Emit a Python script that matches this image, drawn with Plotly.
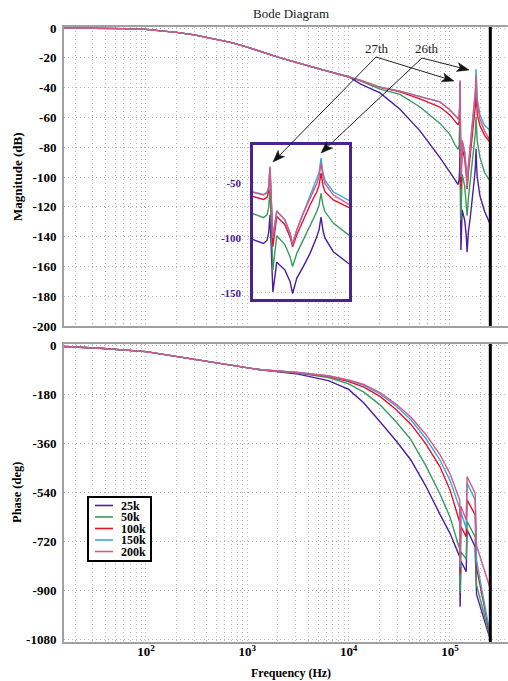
import math
import plotly.graph_objects as go

# ---------------- data ----------------
series_names = ["25k", "50k", "100k", "150k", "200k"]
series_colors = ["#4a1e9e", "#3a9a5c", "#e8102a", "#3aa8dc", "#d05a8c"]

# Magnitude (dB): common low-frequency part shared by every curve
mag_freq_common = [15, 30, 60, 100, 150, 200, 300, 400, 700, 1000, 2000, 5000, 10000]
mag_common = [0, -0.1, -0.4, -0.9, -1.8, -2.9, -4.6, -6.3, -9.8, -12.8, -19.5, -27.2, -32.6]

# Magnitude (dB): high-frequency part, per curve
mag_freq_tail = [13000, 20400, 32100, 50600, 79600, 100000, 111430, 119950, 123030,
                 124450, 125600, 128230, 131830, 139640, 144880, 147570, 152060,
                 159220, 167110, 175390, 178240, 180720, 183230, 185780, 197240,
                 219290, 250000]
mag_25k = [-37.5, -43.5, -54.5, -69, -87, -96.5, -101.5, -105, -102, -95, -79, -149,
           -122, -129, -139.5, -150.5, -136.5, -126, -114, -99, -92.5, -81, -93,
           -100, -112.5, -123, -132]
mag_50k = [-35.5, -41, -44.5, -53, -64, -71.5, -78, -81.5, -79, -72, -56, -129,
           -98, -106, -117, -126, -114, -102, -90, -76, -70, -59.5, -70,
           -76, -86.5, -97, -103]
mag_100k = [-35.1, -39.8, -42.8, -47.5, -53, -58.4, -62.5, -65, -63, -58, -37, -108,
            -80.5, -88, -99, -108, -97, -83.5, -70, -58, -52, -41, -52,
            -58, -65.5, -72, -77]
mag_150k = [-35, -39.6, -42.3, -46, -49.5, -55, -58, -60.5, -58.5, -53.5, -36, -100,
            -75.5, -83.5, -95.5, -106, -92.5, -77.5, -63, -47.5, -40.5, -27.5, -40.5,
            -47.5, -58, -65.5, -69]
mag_200k = [-35, -39.8, -42.3, -46, -49.5, -55, -58.5, -61, -59, -54, -35, -100,
            -75.5, -83.5, -95.5, -106, -92.5, -77.5, -64, -50.5, -44, -32, -44,
            -50.5, -61, -69, -76]

# Phase (deg): common low-frequency part
ph_freq_common = [15, 35, 100, 160, 343, 731, 1350]
ph_common = [-2, -8.6, -21, -33, -54, -73.6, -88]

# Phase (deg): high-frequency part, per curve
ph_freq_tail = [3160, 6310, 10000, 14125, 20400, 29510, 41110, 57540, 79620, 100000,
                122740, 125020, 125890, 128230, 144540, 147570, 177010, 182810, 250000]
ph_25k = [-104, -128, -160, -210, -279, -350, -420, -515, -620, -690,
          -770, -775, -960, -792, -831, -677, -739, -915, -1082]
ph_50k = [-100, -117, -140, -170, -217, -280, -345, -440, -545, -630,
          -740, -748, -910, -758, -785, -647, -702, -880, -1076]
ph_100k = [-99, -113, -131, -152, -186, -235, -288, -360, -445, -530,
           -640, -650, -840, -665, -702, -567, -622, -815, -1072]
ph_150k = [-98, -111, -127, -145, -177, -222, -272, -340, -420, -495,
           -590, -597, -815, -612, -671, -505, -567, -790, -1065]
ph_200k = [-98, -110, -125, -142, -172, -215, -262, -325, -400, -470,
           -560, -567, -800, -590, -641, -481, -542, -735, -895]

mag_tails = [mag_25k, mag_50k, mag_100k, mag_150k, mag_200k]
ph_tails = [ph_25k, ph_50k, ph_100k, ph_150k, ph_200k]

nyquist_hz = 250000
mag_ticks = [0, -20, -40, -60, -80, -100, -120, -140, -160, -180, -200]
phase_ticks = [0, -180, -360, -540, -720, -900, -1080]
inset_ticks = [-50, -100, -150]
freq_decades = [2, 3, 4, 5]
harmonic_labels = ["27th", "26th"]

# ---------------- layout geometry ----------------
W, H = 508, 681
ML, MR, MT, MB = 64, 0, 27, 39
PW, PH = W - ML - MR, H - MT - MB


def px(x):
    return (x - ML) / PW


def py(y):
    return (H - MB - y) / PH


SERIF = "Liberation Serif"
GRID = "#b8b8b8"
GRID_DASH = "1px,3px"
AXLINE = "#a0a0a0"
INSET = "#4a2390"

mag_freq = mag_freq_common + mag_freq_tail
ph_freq = ph_freq_common + ph_freq_tail

fig = go.Figure()

# Magnitude / phase curves, plus the inset zoom of the resonances
for name, color, mt, pt in zip(series_names, series_colors, mag_tails, ph_tails):
    mag = mag_common + mt
    ph = ph_common + pt
    fig.add_trace(go.Scatter(x=mag_freq, y=mag, mode="lines", name=name,
                             line=dict(color=color, width=1.4),
                             xaxis="x", yaxis="y", showlegend=False))
    fig.add_trace(go.Scatter(x=ph_freq, y=ph, mode="lines", name=name,
                             line=dict(color=color, width=1.4),
                             xaxis="x2", yaxis="y2", showlegend=False))
    fig.add_trace(go.Scatter(x=mag_freq, y=mag, mode="lines", name=name,
                             line=dict(color=color, width=1.4),
                             xaxis="x3", yaxis="y3", showlegend=False))

# Nyquist frequency marker
mag_range = [-200, 0.7]
ph_range = [-1090, 7]
fig.add_trace(go.Scatter(x=[nyquist_hz, nyquist_hz], y=mag_range, mode="lines",
                         line=dict(color="black", width=3), xaxis="x", yaxis="y",
                         showlegend=False, hoverinfo="skip"))
fig.add_trace(go.Scatter(x=[nyquist_hz, nyquist_hz], y=ph_range, mode="lines",
                         line=dict(color="black", width=3), xaxis="x2", yaxis="y2",
                         showlegend=False, hoverinfo="skip"))

# log grid positions (1..9 x each decade)
grid_vals = [m * 10 ** d for d in range(1, 6) for m in range(1, 10)
             if 15.5 <= m * 10 ** d <= 370000]
decade_vals = [10 ** d for d in freq_decades]
decade_text = [f"10<sup>{d}</sup>" for d in freq_decades]


def hyphen_labels(vals):
    return [str(v) for v in vals]   # plain ASCII hyphen for negatives


tickfont = dict(family=SERIF, size=13, color="black", weight="bold")
xrange_log = [1.191, 5.5725]

grid_x = dict(type="log", range=xrange_log, tickmode="array", tickvals=grid_vals,
              showticklabels=False, showgrid=True, gridcolor=GRID,
              griddash=GRID_DASH, gridwidth=1, showline=True, linecolor=AXLINE,
              linewidth=2, mirror=True, zeroline=False, ticks="")
common_y = dict(showgrid=True, gridcolor=GRID, griddash=GRID_DASH, gridwidth=1,
                showline=True, linecolor=AXLINE, linewidth=2, mirror=False,
                zeroline=False, ticks="", tickfont=tickfont, tickmode="array",
                ticklabelstandoff=3)

fig.update_layout(
    width=W, height=H,
    margin=dict(l=ML, r=MR, t=MT, b=MB, pad=0),
    paper_bgcolor="white", plot_bgcolor="white",
    showlegend=False,
    xaxis=dict(**grid_x, anchor="y", domain=[0, 1]),
    yaxis=dict(**common_y, anchor="x", domain=[py(326), 1], range=mag_range,
               tickvals=mag_ticks, ticktext=hyphen_labels(mag_ticks)),
    xaxis2=dict(**grid_x, anchor="y2", domain=[0, 1]),
    # decade labels of the phase panel on an overlaid axis without grid
    xaxis4=dict(type="log", range=xrange_log, overlaying="x2", anchor="y2",
                side="bottom", tickmode="array", tickvals=decade_vals,
                ticktext=decade_text, tickangle=0, tickfont=tickfont,
                showgrid=False, showline=False, zeroline=False, ticks=""),
    yaxis2=dict(**common_y, anchor="x2", domain=[0, py(344)], range=ph_range,
                tickvals=phase_ticks, ticktext=hyphen_labels(phase_ticks)),
    xaxis3=dict(type="log", range=[5.0464, 5.3436], anchor="y3",
                domain=[px(253), px(349)], showticklabels=False,
                tickmode="array", tickvals=grid_vals,
                showgrid=True, gridcolor=GRID, griddash=GRID_DASH,
                showline=True, linecolor=INSET, linewidth=2.5, mirror=True,
                zeroline=False, ticks=""),
    yaxis3=dict(range=[-155.5, -15.5], anchor="x3", domain=[py(299), py(145)],
                tickmode="array", tickvals=inset_ticks,
                ticktext=hyphen_labels(inset_ticks),
                tickfont=dict(family=SERIF, size=11, color=INSET, weight="bold"),
                ticklabelstandoff=7,
                showgrid=True, gridcolor=GRID, griddash=GRID_DASH,
                showline=True, linecolor=INSET, linewidth=2.5, mirror=True,
                zeroline=False, ticks=""),
)

# invisible trace so the overlaid decade-label axis is drawn
fig.add_trace(go.Scatter(x=[nyquist_hz], y=[ph_range[0]], mode="markers",
                         marker=dict(opacity=0), xaxis="x4", yaxis="y2",
                         showlegend=False, hoverinfo="skip"))

ann = []


def label(text, x, y, size=13, bold=True, angle=0, color="black", xanchor="center"):
    ann.append(dict(text=text, x=px(x), y=py(y), xref="paper", yref="paper",
                    xanchor=xanchor, yanchor="middle", showarrow=False,
                    textangle=angle,
                    font=dict(family=SERIF, size=size, color=color,
                              weight="bold" if bold else "normal")))


# titles
label("Bode Diagram", 291, 14, bold=False, color="#222")
label("Magnitude (dB)", 17, 177, angle=-90)
label("Phase (deg)", 17, 493, size=12.5, angle=-90)
label("Frequency (Hz)", 291, 673, size=12)

# harmonic labels
label(harmonic_labels[0], 377, 48.5, bold=False, color="#222")
label(harmonic_labels[1], 427, 48.5, bold=False, color="#222")

shapes = []


def arrow(tail, head, length=12.0, half=4.5, notch=9.0):
    tx, ty = tail
    hx, hy = head
    dx, dy = hx - tx, hy - ty
    n = math.hypot(dx, dy)
    ux, uy = dx / n, dy / n
    nx, ny = -uy, ux
    bx, by = hx - length * ux, hy - length * uy
    cx, cy = hx - notch * ux, hy - notch * uy
    shapes.append(dict(type="line", xref="paper", yref="paper",
                       x0=px(tx), y0=py(ty), x1=px(cx), y1=py(cy),
                       line=dict(color="#222", width=1), layer="above"))
    pts = [(hx, hy), (bx + half * nx, by + half * ny), (cx, cy),
           (bx - half * nx, by - half * ny)]
    path = "M " + " L ".join(f"{px(a):.5f},{py(b):.5f}" for a, b in pts) + " Z"
    shapes.append(dict(type="path", xref="paper", yref="paper", path=path,
                       fillcolor="#111", line=dict(color="#111", width=0.5),
                       layer="above"))


arrow((376, 57), (454, 81))
arrow((376, 57), (273, 162))
arrow((422, 58), (469, 70))
arrow((422, 58), (321, 153))

# legend box drawn by hand
shapes.append(dict(type="rect", xref="paper", yref="paper",
                   x0=px(88), x1=px(151), y0=py(561), y1=py(497),
                   line=dict(color="black", width=2), fillcolor="white", layer="above"))
for i, (name, color) in enumerate(zip(series_names, series_colors)):
    yy = 505.5 + i * 11.5
    shapes.append(dict(type="line", xref="paper", yref="paper",
                       x0=px(95), x1=px(113), y0=py(yy), y1=py(yy),
                       line=dict(color=color, width=1.6), layer="above"))
    label(name, 119, yy, size=12, xanchor="left")

fig.update_layout(annotations=ann, shapes=shapes)

fig.write_html("out.html")
